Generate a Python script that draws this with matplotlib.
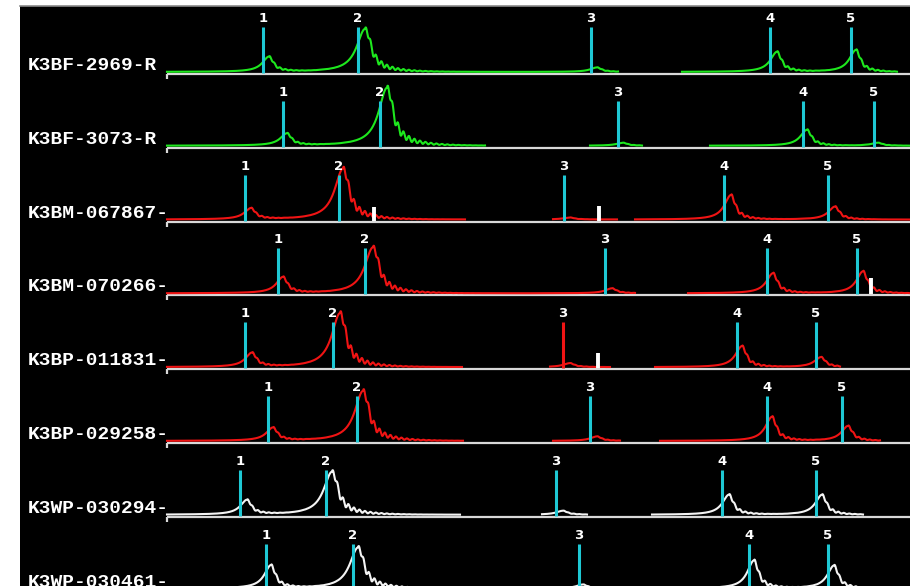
import numpy as np
import matplotlib
matplotlib.use('Agg')
import matplotlib.pyplot as plt

# ---------------- data (x in size units from the start of each trace) ----------------
sample_names = ['K3BF-2969-R', 'K3BF-3073-R', 'K3BM-067867-', 'K3BM-070266-',
                'K3BP-011831-', 'K3BP-029258-', 'K3WP-030294-', 'K3WP-030461-']
trace_colors = ['#1ee81e', '#1ee81e', '#f01414', '#f01414',
                '#f01414', '#f01414', '#f4f4f4', '#f4f4f4']
marker_labels = ['1', '2', '3', '4', '5']

marker_pos = [
    [96, 191, 424, 603, 684],
    [116, 213, 451, 636, 707],
    [78, 172, 397, 557, 661],
    [111, 198, 438, 600, 690],
    [78, 166, 396, 570, 649],
    [101, 190, 423, 600, 675],
    [73, 159, 389, 555, 649],
    [99, 186, 412, 582, 661],
]
peak_pos = [
    [102, 198, 430, 610, 689],
    [120, 220, 456, 640, 711],
    [84, 176, 403, 564, 668],
    [116, 206, 445, 606, 696],
    [85, 173, 403, 575, 654],
    [106, 196, 430, 605, 681],
    [80, 165, 396, 562, 655],
    [104, 191, 416, 587, 667],
]
peak_height = [
    [15, 43, 4.5, 20, 22],
    [12, 58, 3, 16, 3],
    [11, 51, 2, 24.5, 13],
    [16, 46, 5, 20, 22],
    [14, 54, 4, 21, 10],
    [13, 50, 4.5, 24, 15],
    [14.5, 43, 4, 20, 20],
    [23, 41, 4, 28, 23],
]
ref_bar_pos = [[], [], [207, 432], [704], [431], [], [], []]
ref_bar_height = [[], [], [14, 15], [16], [15], [], [], []]
# marker drawn in the trace colour instead of cyan: (row, marker index)
red_markers = [(4, 2)]
# stretches without data
gaps = [
    [(451, 515), (730, 744)],
    [(318, 423), (475, 543)],
    [(298, 386), (450, 468)],
    [(468, 521)],
    [(295, 383), (443, 488), (673, 744)],
    [(296, 386), (453, 493), (713, 744)],
    [(293, 375), (420, 485), (696, 744)],
    [(0, 50)],
]

# ---------------- drawing ----------------
CYAN = '#1ec8d4'
AXIS = '#d8d8d8'
ROW_PITCH = 73.8
FIRST_AXIS = 512.0
X_END = 743


def peak_shape(x, c, h, big):
    d = x - c
    wl = 10.0 if big else 8.0
    wr = 6.0 if big else 4.5
    left = h / (1 + (d / wl) ** 2)
    right = h / (1 + (d / wr) ** 2)
    core = np.where(d < 0, left, right)
    tau = 20.0 if big else 13.0
    dp = np.clip(d, 0, None)
    ring = h * 0.30 * np.exp(-dp / tau) * (1 - np.exp(-dp / 3.0)) * \
        (0.55 + 0.45 * np.cos(2 * np.pi * dp / 5.5))
    ring = np.where(d > 0, ring, 0)
    return core + ring


fig = plt.figure(figsize=(9.1, 5.86), dpi=100, facecolor='white')
ax = fig.add_axes([20 / 910, 0, 890 / 910, 580 / 586])
ax.set_facecolor('black')
ax.set_xlim(-147, X_END)
ax.set_ylim(0, 580)
ax.set_xticks([])
ax.set_yticks([])
for s in ['left', 'right', 'bottom']:
    ax.spines[s].set_visible(False)
ax.spines['top'].set_color('#8a8a8a')
ax.spines['top'].set_linewidth(1.2)

x = np.arange(0, X_END + 0.5, 0.5)

for r, name in enumerate(sample_names):
    y0 = FIRST_AXIS - ROW_PITCH * r
    # axis line with left tick
    ax.plot([0, X_END], [y0, y0], color=AXIS, lw=1.6, solid_capstyle='butt', zorder=2)
    ax.plot([0, 0], [y0, y0 - 5], color=AXIS, lw=1.6, solid_capstyle='butt', zorder=2)

    sig = np.zeros_like(x)
    for k, (c, h) in enumerate(zip(peak_pos[r], peak_height[r])):
        sig += peak_shape(x, c, h, big=(k == 1))
    trace = y0 + 2 + sig
    for a, b in gaps[r]:
        trace[(x > a) & (x < b)] = np.nan
    ax.plot(x, trace, color=trace_colors[r], lw=1.5, zorder=3)

    # reference bars
    for bp, bh in zip(ref_bar_pos[r], ref_bar_height[r]):
        ax.plot([bp, bp], [y0 + 1, y0 + 1 + bh], color='white', lw=2.8,
                solid_capstyle='butt', zorder=4)

    # allele markers
    for k, (mp, lab) in enumerate(zip(marker_pos[r], marker_labels)):
        col = trace_colors[r] if (r, k) in red_markers else CYAN
        ax.plot([mp, mp], [y0 + 1, y0 + 47], color=col, lw=2.2,
                solid_capstyle='butt', zorder=5)
        ax.text(mp, y0 + 55.5, lab, ha='center', va='center', color='white',
                fontsize=9.5, fontweight='bold', family='DejaVu Sans', zorder=6)

    ax.text(-139, y0 + 4, name, ha='left', va='baseline', color='white',
            fontsize=14, fontweight='bold', family='Liberation Mono', zorder=6)

fig.savefig('out.png', dpi=100, facecolor='white')
